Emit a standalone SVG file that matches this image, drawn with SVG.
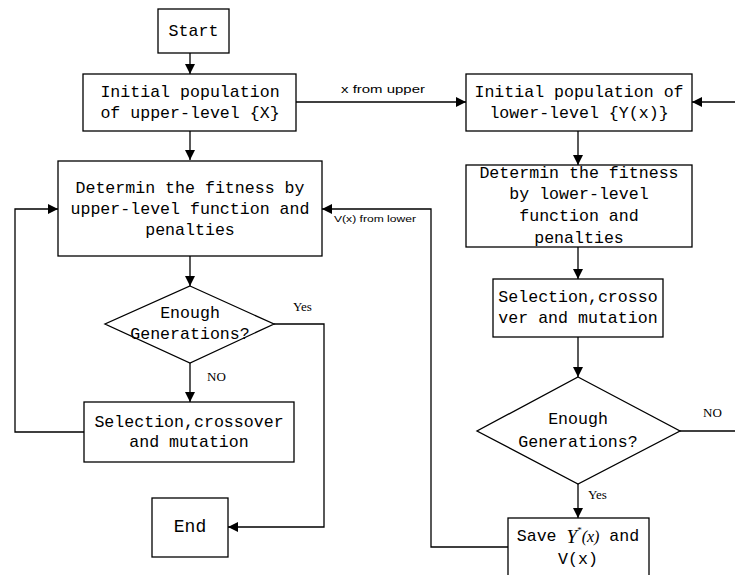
<svg xmlns="http://www.w3.org/2000/svg" width="735" height="575" viewBox="0 0 735 575">
<style>
.box{fill:#fff;stroke:#000;stroke-width:1.3}
.t{font-family:"Liberation Mono","DejaVu Sans Mono",monospace;font-size:16.6px;fill:#000;text-anchor:middle;dominant-baseline:central}
.c{fill:none;stroke:#000;stroke-width:1.3}
.lab{font-family:"Liberation Serif","Times New Roman",serif;font-size:13px;fill:#000}
.sl{font-family:"Liberation Sans","DejaVu Sans",sans-serif;font-size:11px;fill:#000}
</style>
<defs>
<marker id="a" viewBox="0 0 10 10" refX="10" refY="5" markerWidth="10" markerHeight="10" markerUnits="userSpaceOnUse" orient="auto">
<path d="M0,0 L10,5 L0,10 Z" fill="#000"/>
</marker>
</defs>
<g id="connectors">
<path class="c" d="M190,53 V74" marker-end="url(#a)"/>
<path class="c" d="M190,131 V160" marker-end="url(#a)"/>
<path class="c" d="M190,256 V286" marker-end="url(#a)"/>
<path class="c" d="M190,363 V402" marker-end="url(#a)"/>
<path class="c" d="M84,432 H15 V209 H58" marker-end="url(#a)"/>
<path class="c" d="M274,324 H324 V527 H228" marker-end="url(#a)"/>
<path class="c" d="M296,102 H466" marker-end="url(#a)"/>
<path class="c" d="M735,102 H692" marker-end="url(#a)"/>
<path class="c" d="M578,131 V165" marker-end="url(#a)"/>
<path class="c" d="M578,247 V279" marker-end="url(#a)"/>
<path class="c" d="M578,337 V377" marker-end="url(#a)"/>
<path class="c" d="M578,484 V518" marker-end="url(#a)"/>
<path class="c" d="M680,431 H735"/>
<path class="c" d="M508,547 H431 V209 H322" marker-end="url(#a)"/>
<text class="sl" x="341" y="93" textLength="84" lengthAdjust="spacingAndGlyphs">x from upper</text>
<text class="sl" x="334" y="222" style="font-size:9px" textLength="82" lengthAdjust="spacingAndGlyphs">V(x) from lower</text>
<text class="lab" x="293" y="311">Yes</text>
<text class="lab" x="207" y="381">NO</text>
<text class="lab" x="703" y="417">NO</text>
<text class="lab" x="588" y="499">Yes</text>
</g>
<g id="start">
<rect class="box" x="158" y="9" width="71" height="44"/>
<text class="t" x="193.5" y="31">Start</text>
</g>
<g id="init-upper">
<rect class="box" x="83" y="74" width="213" height="57"/>
<text class="t" x="190" y="92">Initial population</text>
<text class="t" x="190" y="113">of upper-level {X}</text>
</g>
<g id="fit-upper">
<rect class="box" x="58" y="161" width="264" height="95"/>
<text class="t" x="190" y="188">Determin the fitness by</text>
<text class="t" x="190" y="209">upper-level function and</text>
<text class="t" x="190" y="230">penalties</text>
</g>
<g id="dec-upper">
<polygon class="box" points="190,286 274,324 190,363 105,324"/>
<text class="t" x="190" y="313">Enough</text>
<text class="t" x="190" y="334">Generations?</text>
</g>
<g id="sel-upper">
<rect class="box" x="84" y="402" width="210" height="60"/>
<text class="t" x="189" y="422">Selection,crossover</text>
<text class="t" x="189" y="442">and mutation</text>
</g>
<g id="end">
<rect class="box" x="152" y="498" width="76" height="59"/>
<text class="t" x="190" y="527" style="font-size:18px">End</text>
</g>
<g id="init-lower">
<rect class="box" x="466" y="74" width="226" height="57"/>
<text class="t" x="579" y="92">Initial population of</text>
<text class="t" x="579" y="113">lower-level {Y(x)}</text>
</g>
<g id="fit-lower">
<rect class="box" x="466" y="165" width="226" height="82"/>
<text class="t" x="579" y="173">Determin the fitness</text>
<text class="t" x="579" y="194">by lower-level</text>
<text class="t" x="579" y="216">function and</text>
<text class="t" x="579" y="238">penalties</text>
</g>
<g id="sel-lower">
<rect class="box" x="493" y="279" width="170" height="58"/>
<text class="t" x="578" y="297">Selection,crosso</text>
<text class="t" x="578" y="318">ver and mutation</text>
</g>
<g id="dec-lower">
<polygon class="box" points="578,377 680,431 578,484 477,431"/>
<text class="t" x="578" y="419">Enough</text>
<text class="t" x="578" y="442">Generations?</text>
</g>
<g id="save">
<rect class="box" x="508" y="518" width="141" height="70"/>
<text class="t" x="578" y="536">Save <tspan style="font-family:'Liberation Serif',serif;font-style:italic;font-size:19px">Y</tspan><tspan style="font-family:'Liberation Serif',serif;font-size:9px" dy="-6">*</tspan><tspan style="font-family:'Liberation Serif',serif;font-style:italic;font-size:16px" dy="6">(x)</tspan>  and</text>
<text class="t" x="578" y="559">V(x)</text>
</g>
</svg>
